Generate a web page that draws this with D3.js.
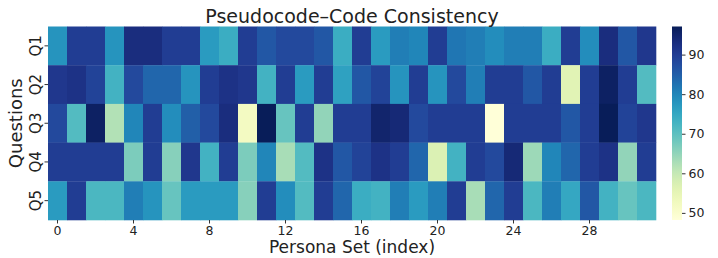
<!DOCTYPE html>
<html><head><meta charset="utf-8">
<script src="https://cdn.jsdelivr.net/npm/d3@7"></script>
<style>body{margin:0;background:#fff}svg{display:block}text{font-family:"DejaVu Sans",sans-serif;fill:#222}</style>
</head><body><svg id="c" width="718" height="258"></svg>
<script>
const questions = ["Q1","Q2","Q3","Q4","Q5"];
const personaSets = d3.range(32);
const xTicks = [0,4,8,12,16,20,24,28];
const cbTicks = [50,60,70,80,90];
const q1 = [78,90,90,78,93,93,90,90,77,74,90,86,88,88,86,74,90,77,81,80,90,82,81,79,81,81,74,90,79,93,86,91];
const q2 = [91,92,89,73,88,84,84,78,90,92,91,73,90,77,90,76,86,89,78,90,78,88,81,90,90,86,90,56,90,96,90,71];
const q3 = [88,71,96,62,80,90,79,85,88,93,52,97,69,90,65,90,90,95,94,88,90,90,90,48.3,90,90,90,86,90,97,89,91];
const q4 = [90,90,90,90,67,90,66,91,73,90,67,80,63,71,92,86,89,92,90,84,57,73,90,88,94,64,80,84,90,92,65,90];
const q5 = [77,90,72,72,81,78,69,77,77,77,66,90,79,71,90,84,74,73,81,77,81,90,63,84,90,72,81,75,86,73,69,72];
const rows = [q1,q2,q3,q4,q5];
const vmin = 48.2, vmax = 97.1;

const svg = d3.select("#c");
const L = 48, R = 656, T = 26.5, B = 220;
const x = d3.scaleBand().domain(personaSets).range([L,R]).padding(0);
const y = d3.scaleBand().domain(questions).range([T,B]).padding(0);
const color = d3.scaleSequential(d3.interpolateYlGnBu).domain([vmin,vmax]);

const cells = [];
rows.forEach((r,i)=>r.forEach((v,j)=>cells.push({q:questions[i],p:j,v})));
svg.append("g").selectAll("rect").data(cells).join("rect")
  .attr("x",d=>x(d.p)).attr("y",d=>y(d.q))
  .attr("width",x.bandwidth()+0.3).attr("height",y.bandwidth()+0.3)
  .attr("fill",d=>color(d.v));

// x axis
const xa = svg.append("g").attr("transform",`translate(0,${B})`)
  .call(d3.axisBottom(x).tickValues(xTicks).tickSize(3.5).tickPadding(3));
xa.select(".domain").remove();
xa.selectAll("line").attr("stroke","#333");
xa.selectAll("text").style("font-size","12.5px").attr("fill","#222");

// y axis
const ya = svg.append("g").attr("transform",`translate(${L},0)`)
  .call(d3.axisLeft(y).tickSize(3.5).tickPadding(0));
ya.select(".domain").remove();
ya.selectAll("line").attr("stroke","#333");
ya.selectAll("text").style("font-size","15px").attr("fill","#222")
  .attr("text-anchor","middle").attr("dy",null)
  .attr("transform","translate(-7.5,0) rotate(-90)").attr("x",0).attr("y",0);

// labels
svg.append("text").attr("x",(L+R)/2).attr("y",23).attr("text-anchor","middle")
  .style("font-size","19px").text("Pseudocode–Code Consistency");
svg.append("text").attr("x",(L+R)/2).attr("y",253).attr("text-anchor","middle")
  .style("font-size","17px").text("Persona Set (index)");
svg.append("text").attr("transform",`translate(22,${(T+B)/2}) rotate(-90)`).attr("text-anchor","middle")
  .style("font-size","18px").text("Questions");

// colorbar
const cbX = 672, cbW = 10;
const cy = d3.scaleLinear().domain([vmin,vmax]).range([B,T]);
const defs = svg.append("defs");
const grad = defs.append("linearGradient").attr("id","cbg").attr("x1",0).attr("y1",1).attr("x2",0).attr("y2",0);
d3.range(0,1.0001,0.05).forEach(t=>grad.append("stop").attr("offset",t).attr("stop-color",color(vmin+t*(vmax-vmin))));
svg.append("rect").attr("x",cbX).attr("y",T).attr("width",cbW).attr("height",B-T).attr("fill","url(#cbg)");
const ca = svg.append("g").attr("transform",`translate(${cbX+cbW},0)`)
  .call(d3.axisRight(cy).tickValues(cbTicks).tickSize(3.5).tickPadding(3));
ca.select(".domain").remove();
ca.selectAll("line").attr("stroke","#333");
ca.selectAll("text").style("font-size","12.5px").attr("fill","#222");
</script></body></html>
